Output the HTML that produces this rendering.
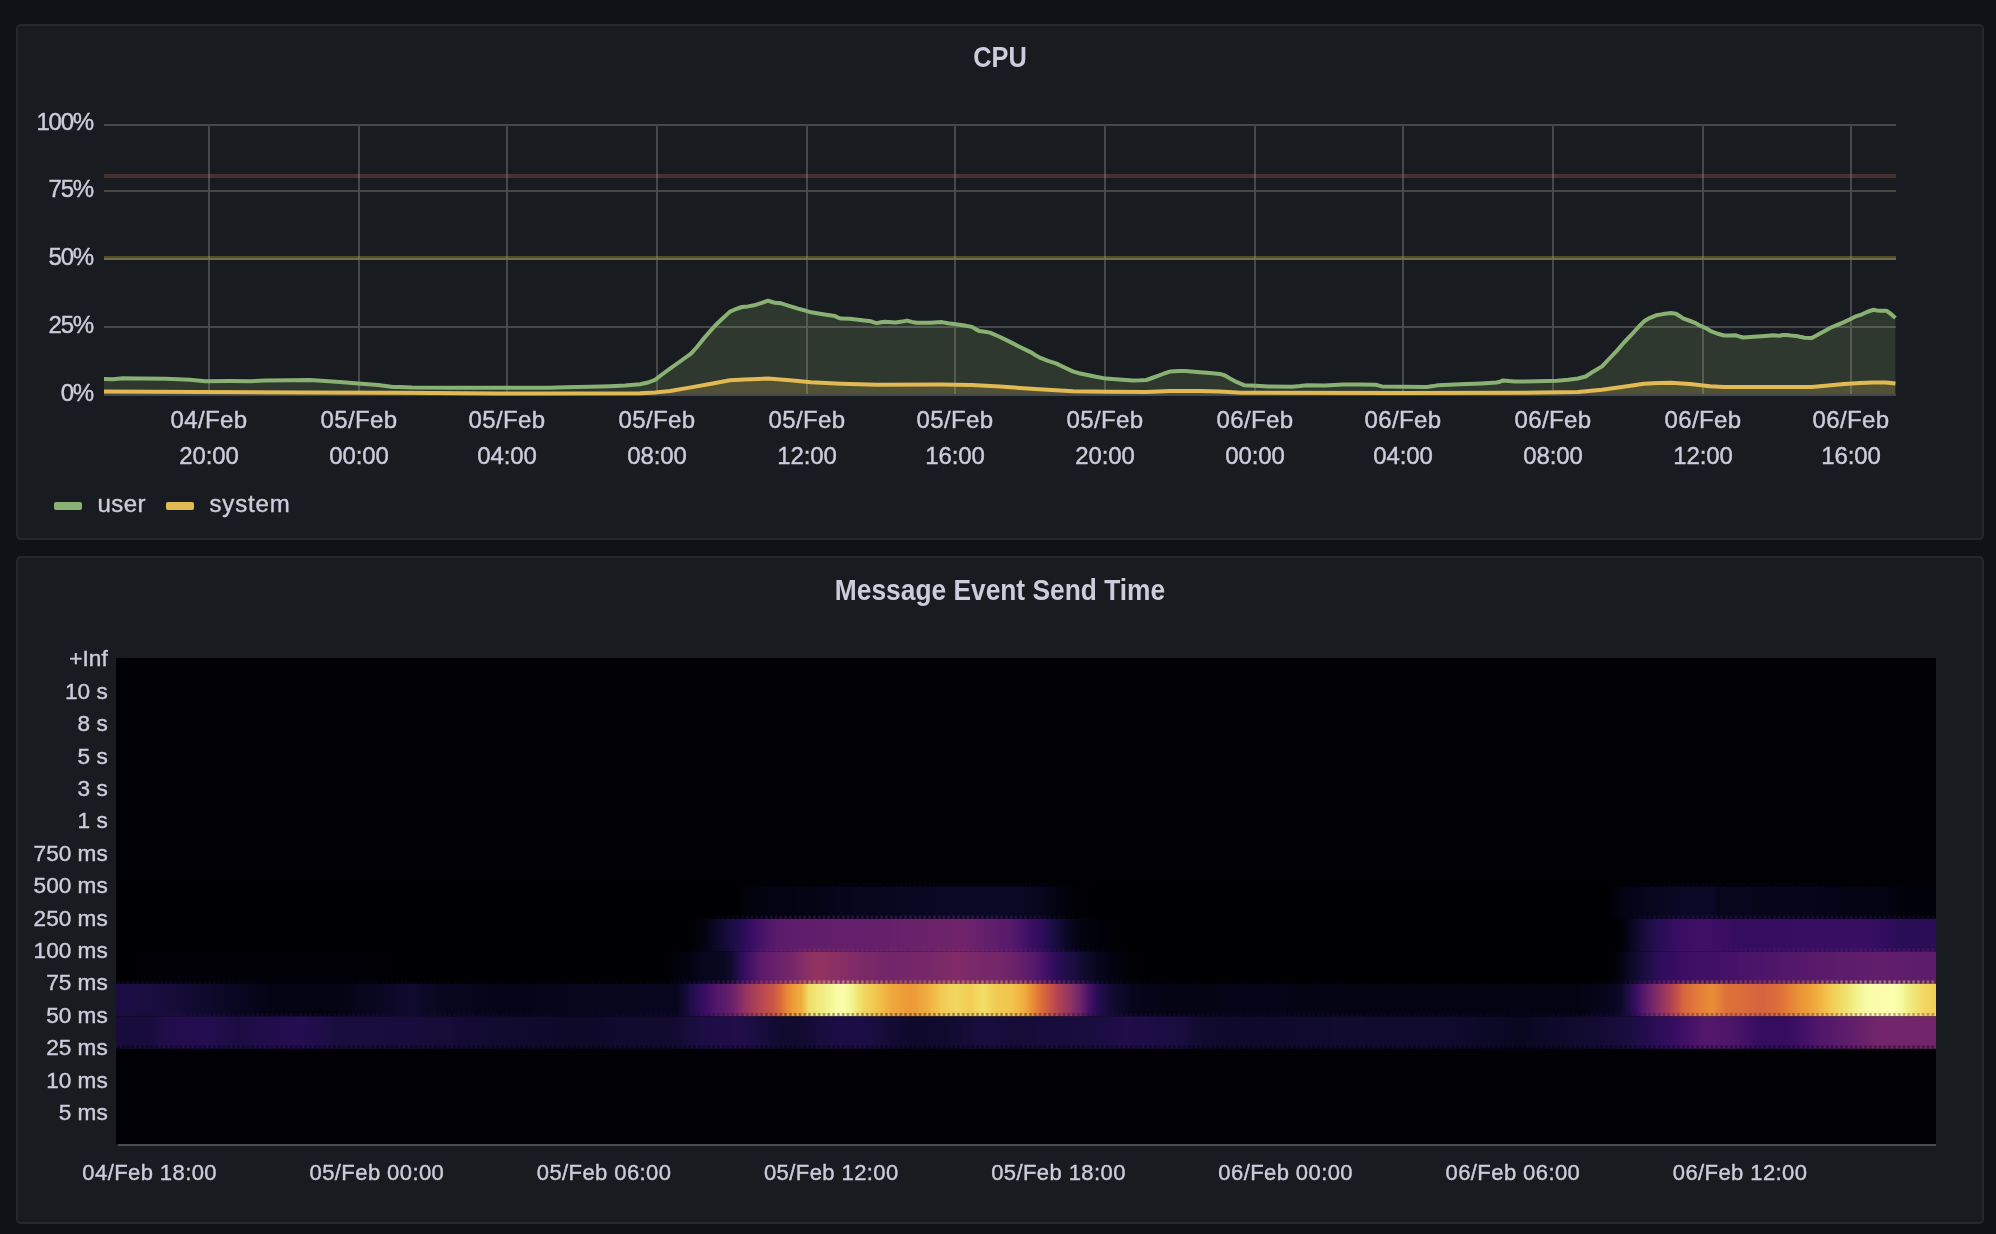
<!DOCTYPE html>
<html><head><meta charset="utf-8"><title>Dashboard</title>
<style>
html,body{margin:0;padding:0;background:#111217;}
body{width:1996px;height:1234px;position:relative;overflow:hidden;font-family:"Liberation Sans",sans-serif;color:#ccccdc;}
.abs{position:absolute;}
.txt{position:absolute;left:0;top:0;width:1996px;height:1234px;will-change:transform;}
.panel{position:absolute;left:16px;width:1968px;box-sizing:border-box;background:#181b1f;border:2px solid #25272c;border-radius:5px;}
.title{position:absolute;left:0;width:1996px;text-align:center;font-weight:bold;font-size:29px;line-height:32px;transform-origin:50% 50%;white-space:nowrap;}
.yl,.xl,.lg,.hy,.hx{-webkit-text-stroke:0.4px #ccccdc;}
.yl{position:absolute;left:0;width:93px;text-align:right;font-size:24px;line-height:32px;letter-spacing:-1.2px;white-space:nowrap;}
.xl{position:absolute;width:120px;text-align:center;font-size:24px;line-height:32px;white-space:nowrap;letter-spacing:0.4px;}
.xt{letter-spacing:-0.1px;}
.lg{position:absolute;font-size:24px;line-height:32px;white-space:nowrap;}
.sw{position:absolute;top:502px;width:28px;height:8px;border-radius:2px;}
.hy{position:absolute;left:0;width:107.7px;text-align:right;font-size:22.6px;line-height:28px;white-space:nowrap;}
.hx{position:absolute;width:200px;text-align:center;font-size:22px;line-height:28px;letter-spacing:0.42px;white-space:nowrap;}
</style></head><body>
<div class="panel" style="top:24px;height:516px"></div>
<div class="panel" style="top:556px;height:668px"></div>
<svg class="abs" style="left:0;top:0" width="1996" height="560" viewBox="0 0 1996 560"><rect x="208" y="124" width="2" height="272" fill="#46474b"/><rect x="358" y="124" width="2" height="272" fill="#46474b"/><rect x="506" y="124" width="2" height="272" fill="#46474b"/><rect x="656" y="124" width="2" height="272" fill="#46474b"/><rect x="806" y="124" width="2" height="272" fill="#46474b"/><rect x="954" y="124" width="2" height="272" fill="#46474b"/><rect x="1104" y="124" width="2" height="272" fill="#46474b"/><rect x="1254" y="124" width="2" height="272" fill="#46474b"/><rect x="1402" y="124" width="2" height="272" fill="#46474b"/><rect x="1552" y="124" width="2" height="272" fill="#46474b"/><rect x="1702" y="124" width="2" height="272" fill="#46474b"/><rect x="1850" y="124" width="2" height="272" fill="#46474b"/><rect x="104" y="124" width="1792" height="2" fill="#46474b"/><rect x="104" y="190" width="1792" height="2" fill="#46474b"/><rect x="104" y="258" width="1792" height="2" fill="#46474b"/><rect x="104" y="326" width="1792" height="2" fill="#46474b"/><rect x="104" y="394" width="1792" height="2" fill="#46474b"/><polygon points="104.0,379.1 113.0,379.3 122.5,378.3 140.0,378.6 166.0,378.8 190.0,379.8 205.0,381.2 230.0,381.0 250.0,381.2 265.0,380.6 290.0,380.3 310.0,380.1 325.0,380.9 340.0,382.0 355.0,383.3 378.0,385.1 393.0,387.0 400.0,386.9 412.0,387.6 450.0,387.8 500.0,387.8 550.0,387.8 565.0,387.2 590.0,386.8 610.0,386.3 625.0,385.6 640.0,384.2 648.0,382.5 655.0,379.8 662.0,374.5 670.0,368.7 680.0,361.5 691.0,353.7 697.0,347.0 703.0,339.4 709.0,332.5 715.0,325.8 722.0,319.0 730.0,311.6 736.0,309.0 742.0,307.0 748.0,306.4 754.0,305.3 761.0,303.2 768.0,300.7 772.0,302.0 775.0,302.8 781.0,303.3 789.0,305.8 798.0,308.6 804.0,310.2 811.0,312.3 823.0,314.3 835.0,316.1 838.0,317.6 841.0,318.6 850.0,318.8 860.0,320.0 871.0,321.3 874.0,322.4 877.0,323.1 881.0,322.2 885.0,321.8 895.5,322.5 902.0,321.6 907.0,320.6 912.0,321.9 916.6,322.8 930.0,322.8 942.0,322.1 948.0,323.2 954.0,323.9 963.0,325.2 972.0,326.9 976.0,329.4 979.6,331.1 985.0,331.8 990.0,332.6 1000.0,337.0 1011.0,342.4 1021.0,347.5 1032.0,352.9 1036.0,355.6 1041.0,358.2 1048.0,360.8 1056.0,363.4 1064.0,367.3 1072.8,371.4 1079.0,373.2 1086.3,374.7 1096.0,376.8 1105.9,378.6 1119.0,379.6 1133.0,380.4 1140.0,380.3 1146.4,380.0 1152.0,378.0 1158.0,375.8 1164.0,373.5 1170.5,371.4 1178.0,371.0 1185.5,371.1 1200.0,372.2 1210.0,373.0 1220.0,373.9 1225.0,375.5 1230.0,378.5 1237.0,382.2 1244.0,385.2 1256.0,385.8 1268.0,386.4 1292.0,386.7 1300.0,386.0 1307.0,385.2 1325.0,385.5 1334.0,385.0 1343.0,384.5 1360.0,384.6 1376.0,384.8 1379.0,385.6 1382.0,386.4 1405.0,386.8 1427.0,387.0 1433.0,386.1 1438.0,385.2 1460.0,384.3 1481.5,383.4 1496.6,382.5 1500.0,381.8 1503.0,380.4 1509.0,381.1 1515.0,381.6 1536.0,381.2 1557.0,380.7 1568.0,379.7 1578.0,378.5 1585.7,376.5 1593.0,371.7 1602.0,366.4 1609.0,359.0 1617.0,350.6 1624.0,342.5 1632.0,334.1 1638.0,327.5 1644.0,321.3 1650.0,317.8 1656.0,315.3 1663.0,314.1 1671.0,313.1 1676.0,313.8 1680.0,316.2 1683.0,318.3 1689.0,320.5 1695.0,322.8 1700.0,325.7 1707.0,328.7 1710.8,331.1 1717.0,333.5 1724.0,335.5 1730.0,335.5 1736.0,335.3 1740.0,336.6 1743.0,337.5 1750.0,337.1 1757.7,336.5 1765.0,336.0 1773.0,335.3 1779.0,335.7 1783.0,335.1 1786.6,334.9 1791.0,335.5 1796.0,335.9 1800.0,336.8 1804.6,337.7 1811.8,338.1 1816.0,335.8 1820.0,333.5 1826.0,330.3 1831.0,327.5 1838.0,324.6 1844.0,322.1 1850.0,319.2 1855.0,316.7 1862.0,314.3 1867.0,312.0 1873.0,309.8 1877.0,310.4 1880.4,310.7 1886.4,310.7 1891.0,314.0 1895.4,317.9 1895.4,394 104,394" fill="#89b174" fill-opacity="0.2"/><polygon points="104.0,391.6 200.0,392.0 300.0,392.4 400.0,392.8 500.0,393.4 640.0,393.3 655.0,392.4 670.0,391.0 691.0,387.4 710.0,384.0 730.0,380.2 745.0,379.4 768.0,378.5 790.0,380.2 811.0,382.2 841.0,383.7 877.0,384.8 940.0,384.5 972.0,384.9 1000.0,386.6 1035.0,389.0 1072.8,391.2 1110.0,391.8 1146.0,392.0 1170.0,390.9 1200.0,391.0 1220.0,391.5 1241.0,392.7 1400.0,392.9 1520.0,392.7 1578.0,392.0 1602.0,389.7 1622.0,386.9 1644.0,383.7 1658.0,383.0 1671.0,382.7 1690.0,384.0 1710.0,386.2 1724.0,386.9 1760.0,387.0 1811.8,387.0 1828.0,385.5 1844.0,384.0 1860.0,383.1 1873.0,382.4 1886.0,382.4 1895.4,383.6 1895.4,394 104,394" fill="#e2ba53" fill-opacity="0.2"/><rect x="104" y="174" width="1792" height="4" fill="#e46f6b" fill-opacity="0.25"/><rect x="104" y="256" width="1792" height="4" fill="#d6c83d" fill-opacity="0.3"/><polyline points="104.0,379.1 113.0,379.3 122.5,378.3 140.0,378.6 166.0,378.8 190.0,379.8 205.0,381.2 230.0,381.0 250.0,381.2 265.0,380.6 290.0,380.3 310.0,380.1 325.0,380.9 340.0,382.0 355.0,383.3 378.0,385.1 393.0,387.0 400.0,386.9 412.0,387.6 450.0,387.8 500.0,387.8 550.0,387.8 565.0,387.2 590.0,386.8 610.0,386.3 625.0,385.6 640.0,384.2 648.0,382.5 655.0,379.8 662.0,374.5 670.0,368.7 680.0,361.5 691.0,353.7 697.0,347.0 703.0,339.4 709.0,332.5 715.0,325.8 722.0,319.0 730.0,311.6 736.0,309.0 742.0,307.0 748.0,306.4 754.0,305.3 761.0,303.2 768.0,300.7 772.0,302.0 775.0,302.8 781.0,303.3 789.0,305.8 798.0,308.6 804.0,310.2 811.0,312.3 823.0,314.3 835.0,316.1 838.0,317.6 841.0,318.6 850.0,318.8 860.0,320.0 871.0,321.3 874.0,322.4 877.0,323.1 881.0,322.2 885.0,321.8 895.5,322.5 902.0,321.6 907.0,320.6 912.0,321.9 916.6,322.8 930.0,322.8 942.0,322.1 948.0,323.2 954.0,323.9 963.0,325.2 972.0,326.9 976.0,329.4 979.6,331.1 985.0,331.8 990.0,332.6 1000.0,337.0 1011.0,342.4 1021.0,347.5 1032.0,352.9 1036.0,355.6 1041.0,358.2 1048.0,360.8 1056.0,363.4 1064.0,367.3 1072.8,371.4 1079.0,373.2 1086.3,374.7 1096.0,376.8 1105.9,378.6 1119.0,379.6 1133.0,380.4 1140.0,380.3 1146.4,380.0 1152.0,378.0 1158.0,375.8 1164.0,373.5 1170.5,371.4 1178.0,371.0 1185.5,371.1 1200.0,372.2 1210.0,373.0 1220.0,373.9 1225.0,375.5 1230.0,378.5 1237.0,382.2 1244.0,385.2 1256.0,385.8 1268.0,386.4 1292.0,386.7 1300.0,386.0 1307.0,385.2 1325.0,385.5 1334.0,385.0 1343.0,384.5 1360.0,384.6 1376.0,384.8 1379.0,385.6 1382.0,386.4 1405.0,386.8 1427.0,387.0 1433.0,386.1 1438.0,385.2 1460.0,384.3 1481.5,383.4 1496.6,382.5 1500.0,381.8 1503.0,380.4 1509.0,381.1 1515.0,381.6 1536.0,381.2 1557.0,380.7 1568.0,379.7 1578.0,378.5 1585.7,376.5 1593.0,371.7 1602.0,366.4 1609.0,359.0 1617.0,350.6 1624.0,342.5 1632.0,334.1 1638.0,327.5 1644.0,321.3 1650.0,317.8 1656.0,315.3 1663.0,314.1 1671.0,313.1 1676.0,313.8 1680.0,316.2 1683.0,318.3 1689.0,320.5 1695.0,322.8 1700.0,325.7 1707.0,328.7 1710.8,331.1 1717.0,333.5 1724.0,335.5 1730.0,335.5 1736.0,335.3 1740.0,336.6 1743.0,337.5 1750.0,337.1 1757.7,336.5 1765.0,336.0 1773.0,335.3 1779.0,335.7 1783.0,335.1 1786.6,334.9 1791.0,335.5 1796.0,335.9 1800.0,336.8 1804.6,337.7 1811.8,338.1 1816.0,335.8 1820.0,333.5 1826.0,330.3 1831.0,327.5 1838.0,324.6 1844.0,322.1 1850.0,319.2 1855.0,316.7 1862.0,314.3 1867.0,312.0 1873.0,309.8 1877.0,310.4 1880.4,310.7 1886.4,310.7 1891.0,314.0 1895.4,317.9" fill="none" stroke="#89b174" stroke-width="4" stroke-linejoin="round"/><polyline points="104.0,391.6 200.0,392.0 300.0,392.4 400.0,392.8 500.0,393.4 640.0,393.3 655.0,392.4 670.0,391.0 691.0,387.4 710.0,384.0 730.0,380.2 745.0,379.4 768.0,378.5 790.0,380.2 811.0,382.2 841.0,383.7 877.0,384.8 940.0,384.5 972.0,384.9 1000.0,386.6 1035.0,389.0 1072.8,391.2 1110.0,391.8 1146.0,392.0 1170.0,390.9 1200.0,391.0 1220.0,391.5 1241.0,392.7 1400.0,392.9 1520.0,392.7 1578.0,392.0 1602.0,389.7 1622.0,386.9 1644.0,383.7 1658.0,383.0 1671.0,382.7 1690.0,384.0 1710.0,386.2 1724.0,386.9 1760.0,387.0 1811.8,387.0 1828.0,385.5 1844.0,384.0 1860.0,383.1 1873.0,382.4 1886.0,382.4 1895.4,383.6" fill="none" stroke="#e2ba53" stroke-width="4" stroke-linejoin="round"/></svg>
<svg class="abs" style="left:0;top:556px" width="1996" height="678" viewBox="0 556 1996 678"><defs><linearGradient id="b1" gradientUnits="userSpaceOnUse" x1="116" x2="1936" y1="0" y2="0"><stop offset="0.0000" stop-color="#000003"/><stop offset="0.3423" stop-color="#000003"/><stop offset="0.3462" stop-color="#02020d"/><stop offset="0.3500" stop-color="#03020f"/><stop offset="0.3538" stop-color="#03020f"/><stop offset="0.3577" stop-color="#030311"/><stop offset="0.3654" stop-color="#030311"/><stop offset="0.3692" stop-color="#040313"/><stop offset="0.3731" stop-color="#040313"/><stop offset="0.3769" stop-color="#050415"/><stop offset="0.3846" stop-color="#050415"/><stop offset="0.3885" stop-color="#050418"/><stop offset="0.3923" stop-color="#050418"/><stop offset="0.3962" stop-color="#06051a"/><stop offset="0.4038" stop-color="#06051a"/><stop offset="0.4077" stop-color="#07061c"/><stop offset="0.4154" stop-color="#07061c"/><stop offset="0.4192" stop-color="#08061e"/><stop offset="0.4231" stop-color="#08061e"/><stop offset="0.4269" stop-color="#090720"/><stop offset="0.4308" stop-color="#090720"/><stop offset="0.4346" stop-color="#0a0722"/><stop offset="0.4462" stop-color="#0a0722"/><stop offset="0.4500" stop-color="#0b0825"/><stop offset="0.4962" stop-color="#0b0825"/><stop offset="0.5000" stop-color="#0a0722"/><stop offset="0.5038" stop-color="#090720"/><stop offset="0.5077" stop-color="#08061e"/><stop offset="0.5115" stop-color="#06051a"/><stop offset="0.5154" stop-color="#050415"/><stop offset="0.5192" stop-color="#03020f"/><stop offset="0.5231" stop-color="#02020b"/><stop offset="0.5269" stop-color="#010107"/><stop offset="0.5308" stop-color="#010106"/><stop offset="0.5346" stop-color="#010004"/><stop offset="0.5385" stop-color="#000003"/><stop offset="0.8192" stop-color="#000003"/><stop offset="0.8231" stop-color="#02020d"/><stop offset="0.8269" stop-color="#030311"/><stop offset="0.8308" stop-color="#050415"/><stop offset="0.8346" stop-color="#050418"/><stop offset="0.8385" stop-color="#06051a"/><stop offset="0.8423" stop-color="#07061c"/><stop offset="0.8462" stop-color="#08061e"/><stop offset="0.8500" stop-color="#090720"/><stop offset="0.8538" stop-color="#0a0722"/><stop offset="0.8577" stop-color="#0b0825"/><stop offset="0.8615" stop-color="#0c0827"/><stop offset="0.8769" stop-color="#0c0827"/><stop offset="0.8808" stop-color="#07061c"/><stop offset="0.8962" stop-color="#07061c"/><stop offset="0.9000" stop-color="#06051a"/><stop offset="0.9346" stop-color="#06051a"/><stop offset="0.9385" stop-color="#050418"/><stop offset="0.9462" stop-color="#050418"/><stop offset="0.9500" stop-color="#050415"/><stop offset="0.9577" stop-color="#050415"/><stop offset="0.9615" stop-color="#040313"/><stop offset="0.9692" stop-color="#040313"/><stop offset="0.9731" stop-color="#030311"/><stop offset="0.9769" stop-color="#03020f"/><stop offset="0.9808" stop-color="#02020b"/><stop offset="0.9846" stop-color="#010109"/><stop offset="1.0000" stop-color="#010109"/></linearGradient><linearGradient id="b2" gradientUnits="userSpaceOnUse" x1="116" x2="1936" y1="0" y2="0"><stop offset="0.0000" stop-color="#000003"/><stop offset="0.3115" stop-color="#000003"/><stop offset="0.3154" stop-color="#010004"/><stop offset="0.3192" stop-color="#02020b"/><stop offset="0.3231" stop-color="#040313"/><stop offset="0.3269" stop-color="#08061e"/><stop offset="0.3308" stop-color="#0e0929"/><stop offset="0.3346" stop-color="#130b35"/><stop offset="0.3385" stop-color="#1b0d43"/><stop offset="0.3423" stop-color="#240d50"/><stop offset="0.3462" stop-color="#2f0d5b"/><stop offset="0.3500" stop-color="#3a0e63"/><stop offset="0.3538" stop-color="#451267"/><stop offset="0.3577" stop-color="#4e1669"/><stop offset="0.3615" stop-color="#56196a"/><stop offset="0.3654" stop-color="#5a1b6b"/><stop offset="0.3692" stop-color="#5e1d6b"/><stop offset="0.3731" stop-color="#5e1d6b"/><stop offset="0.3769" stop-color="#601d6b"/><stop offset="0.3808" stop-color="#601d6b"/><stop offset="0.3846" stop-color="#611e6b"/><stop offset="0.3885" stop-color="#611e6b"/><stop offset="0.3923" stop-color="#631f6b"/><stop offset="0.4077" stop-color="#631f6b"/><stop offset="0.4115" stop-color="#641f6b"/><stop offset="0.4154" stop-color="#641f6b"/><stop offset="0.4192" stop-color="#66206b"/><stop offset="0.4231" stop-color="#66206b"/><stop offset="0.4269" stop-color="#67216b"/><stop offset="0.4308" stop-color="#67216b"/><stop offset="0.4346" stop-color="#69216a"/><stop offset="0.4385" stop-color="#69216a"/><stop offset="0.4423" stop-color="#6a226a"/><stop offset="0.4462" stop-color="#6a226a"/><stop offset="0.4500" stop-color="#6c236a"/><stop offset="0.4538" stop-color="#6c236a"/><stop offset="0.4577" stop-color="#6d236a"/><stop offset="0.4615" stop-color="#6f246a"/><stop offset="0.4654" stop-color="#6f246a"/><stop offset="0.4692" stop-color="#6c236a"/><stop offset="0.4731" stop-color="#67216b"/><stop offset="0.4769" stop-color="#641f6b"/><stop offset="0.4808" stop-color="#611e6b"/><stop offset="0.4846" stop-color="#5e1d6b"/><stop offset="0.4885" stop-color="#5a1b6b"/><stop offset="0.4923" stop-color="#56196a"/><stop offset="0.4962" stop-color="#4d1569"/><stop offset="0.5000" stop-color="#421166"/><stop offset="0.5038" stop-color="#390e62"/><stop offset="0.5077" stop-color="#310d5d"/><stop offset="0.5115" stop-color="#240d50"/><stop offset="0.5154" stop-color="#1b0d43"/><stop offset="0.5192" stop-color="#120b32"/><stop offset="0.5231" stop-color="#0a0722"/><stop offset="0.5269" stop-color="#06051a"/><stop offset="0.5308" stop-color="#030311"/><stop offset="0.5346" stop-color="#02020d"/><stop offset="0.5385" stop-color="#02020b"/><stop offset="0.5423" stop-color="#010109"/><stop offset="0.5462" stop-color="#010107"/><stop offset="0.5500" stop-color="#010004"/><stop offset="0.5538" stop-color="#000003"/><stop offset="0.8231" stop-color="#000003"/><stop offset="0.8269" stop-color="#010107"/><stop offset="0.8308" stop-color="#050418"/><stop offset="0.8346" stop-color="#0c0827"/><stop offset="0.8385" stop-color="#150c37"/><stop offset="0.8423" stop-color="#1d0d45"/><stop offset="0.8462" stop-color="#260d52"/><stop offset="0.8500" stop-color="#2b0d57"/><stop offset="0.8538" stop-color="#310d5d"/><stop offset="0.8577" stop-color="#390e62"/><stop offset="0.8615" stop-color="#3a0e63"/><stop offset="0.8654" stop-color="#3c0f64"/><stop offset="0.8692" stop-color="#3e0f64"/><stop offset="0.8731" stop-color="#3f1065"/><stop offset="0.8769" stop-color="#3e0f64"/><stop offset="0.8808" stop-color="#3a0e63"/><stop offset="0.8846" stop-color="#390e62"/><stop offset="0.8885" stop-color="#360d60"/><stop offset="0.8923" stop-color="#340d5f"/><stop offset="0.9077" stop-color="#340d5f"/><stop offset="0.9115" stop-color="#360d60"/><stop offset="0.9192" stop-color="#360d60"/><stop offset="0.9231" stop-color="#370e61"/><stop offset="0.9615" stop-color="#370e61"/><stop offset="0.9654" stop-color="#360d60"/><stop offset="0.9692" stop-color="#340d5f"/><stop offset="0.9731" stop-color="#310d5d"/><stop offset="0.9769" stop-color="#2e0d5a"/><stop offset="0.9808" stop-color="#2c0d58"/><stop offset="0.9846" stop-color="#290d55"/><stop offset="0.9923" stop-color="#290d55"/><stop offset="0.9962" stop-color="#2b0d57"/><stop offset="1.0000" stop-color="#2c0d58"/></linearGradient><linearGradient id="b3" gradientUnits="userSpaceOnUse" x1="116" x2="1936" y1="0" y2="0"><stop offset="0.0000" stop-color="#000003"/><stop offset="0.0077" stop-color="#000003"/><stop offset="0.0115" stop-color="#010004"/><stop offset="0.0154" stop-color="#010004"/><stop offset="0.0192" stop-color="#010106"/><stop offset="0.0231" stop-color="#010106"/><stop offset="0.0269" stop-color="#010107"/><stop offset="0.1346" stop-color="#010107"/><stop offset="0.1385" stop-color="#010106"/><stop offset="0.1423" stop-color="#010106"/><stop offset="0.1462" stop-color="#010004"/><stop offset="0.1500" stop-color="#000003"/><stop offset="0.3000" stop-color="#000003"/><stop offset="0.3038" stop-color="#010107"/><stop offset="0.3077" stop-color="#02020b"/><stop offset="0.3115" stop-color="#03020f"/><stop offset="0.3154" stop-color="#040313"/><stop offset="0.3192" stop-color="#050418"/><stop offset="0.3231" stop-color="#07061c"/><stop offset="0.3269" stop-color="#08061e"/><stop offset="0.3308" stop-color="#090720"/><stop offset="0.3346" stop-color="#0a0722"/><stop offset="0.3385" stop-color="#110b30"/><stop offset="0.3423" stop-color="#260d52"/><stop offset="0.3462" stop-color="#3a0e63"/><stop offset="0.3500" stop-color="#4a1468"/><stop offset="0.3538" stop-color="#571a6a"/><stop offset="0.3577" stop-color="#601d6b"/><stop offset="0.3615" stop-color="#66206b"/><stop offset="0.3654" stop-color="#6c236a"/><stop offset="0.3692" stop-color="#72256a"/><stop offset="0.3731" stop-color="#792868"/><stop offset="0.3769" stop-color="#822c67"/><stop offset="0.3808" stop-color="#8b3064"/><stop offset="0.3846" stop-color="#933461"/><stop offset="0.3885" stop-color="#913362"/><stop offset="0.3923" stop-color="#8e3163"/><stop offset="0.3962" stop-color="#893065"/><stop offset="0.4000" stop-color="#862e65"/><stop offset="0.4038" stop-color="#822c67"/><stop offset="0.4077" stop-color="#7f2b67"/><stop offset="0.4115" stop-color="#7a2968"/><stop offset="0.4154" stop-color="#792868"/><stop offset="0.4192" stop-color="#762769"/><stop offset="0.4231" stop-color="#732669"/><stop offset="0.4269" stop-color="#72256a"/><stop offset="0.4308" stop-color="#732669"/><stop offset="0.4346" stop-color="#732669"/><stop offset="0.4385" stop-color="#752769"/><stop offset="0.4423" stop-color="#762769"/><stop offset="0.4462" stop-color="#772869"/><stop offset="0.4500" stop-color="#792868"/><stop offset="0.4538" stop-color="#7c2a68"/><stop offset="0.4577" stop-color="#7f2b67"/><stop offset="0.4615" stop-color="#822c67"/><stop offset="0.4654" stop-color="#7f2b67"/><stop offset="0.4692" stop-color="#7a2968"/><stop offset="0.4731" stop-color="#792868"/><stop offset="0.4769" stop-color="#772869"/><stop offset="0.4808" stop-color="#762769"/><stop offset="0.4846" stop-color="#752769"/><stop offset="0.4885" stop-color="#72256a"/><stop offset="0.4923" stop-color="#6c236a"/><stop offset="0.4962" stop-color="#67216b"/><stop offset="0.5000" stop-color="#601d6b"/><stop offset="0.5038" stop-color="#571a6a"/><stop offset="0.5077" stop-color="#4d1569"/><stop offset="0.5115" stop-color="#3f1065"/><stop offset="0.5154" stop-color="#310d5d"/><stop offset="0.5192" stop-color="#270d53"/><stop offset="0.5231" stop-color="#200d49"/><stop offset="0.5269" stop-color="#190d3e"/><stop offset="0.5308" stop-color="#120b32"/><stop offset="0.5346" stop-color="#0e0929"/><stop offset="0.5385" stop-color="#090720"/><stop offset="0.5423" stop-color="#06051a"/><stop offset="0.5462" stop-color="#040313"/><stop offset="0.5500" stop-color="#03020f"/><stop offset="0.5538" stop-color="#02020b"/><stop offset="0.5577" stop-color="#010107"/><stop offset="0.5615" stop-color="#010106"/><stop offset="0.5654" stop-color="#010004"/><stop offset="0.5692" stop-color="#000003"/><stop offset="0.8192" stop-color="#000003"/><stop offset="0.8231" stop-color="#010107"/><stop offset="0.8269" stop-color="#040313"/><stop offset="0.8308" stop-color="#090720"/><stop offset="0.8346" stop-color="#100a2e"/><stop offset="0.8385" stop-color="#170c3c"/><stop offset="0.8423" stop-color="#1e0d47"/><stop offset="0.8462" stop-color="#290d55"/><stop offset="0.8500" stop-color="#310d5d"/><stop offset="0.8538" stop-color="#340d5f"/><stop offset="0.8577" stop-color="#370e61"/><stop offset="0.8615" stop-color="#3a0e63"/><stop offset="0.8654" stop-color="#3e0f64"/><stop offset="0.8692" stop-color="#3f1065"/><stop offset="0.8731" stop-color="#3f1065"/><stop offset="0.8769" stop-color="#411066"/><stop offset="0.8808" stop-color="#421166"/><stop offset="0.8846" stop-color="#441167"/><stop offset="0.8885" stop-color="#451267"/><stop offset="0.8923" stop-color="#481368"/><stop offset="0.8962" stop-color="#4a1468"/><stop offset="0.9000" stop-color="#4b1469"/><stop offset="0.9038" stop-color="#4d1569"/><stop offset="0.9077" stop-color="#4e1669"/><stop offset="0.9115" stop-color="#501669"/><stop offset="0.9154" stop-color="#51176a"/><stop offset="0.9192" stop-color="#53186a"/><stop offset="0.9231" stop-color="#54186a"/><stop offset="0.9269" stop-color="#56196a"/><stop offset="0.9308" stop-color="#571a6a"/><stop offset="0.9346" stop-color="#591a6a"/><stop offset="0.9385" stop-color="#5a1b6b"/><stop offset="0.9423" stop-color="#5a1b6b"/><stop offset="0.9462" stop-color="#5b1c6b"/><stop offset="0.9500" stop-color="#5d1c6b"/><stop offset="0.9538" stop-color="#5e1d6b"/><stop offset="0.9577" stop-color="#5e1d6b"/><stop offset="0.9615" stop-color="#601d6b"/><stop offset="0.9654" stop-color="#611e6b"/><stop offset="0.9731" stop-color="#611e6b"/><stop offset="0.9769" stop-color="#601d6b"/><stop offset="0.9808" stop-color="#601d6b"/><stop offset="0.9846" stop-color="#5e1d6b"/><stop offset="0.9885" stop-color="#5e1d6b"/><stop offset="0.9923" stop-color="#5d1c6b"/><stop offset="0.9962" stop-color="#5d1c6b"/><stop offset="1.0000" stop-color="#5b1c6b"/></linearGradient><linearGradient id="b4" gradientUnits="userSpaceOnUse" x1="116" x2="1936" y1="0" y2="0"><stop offset="0.0000" stop-color="#1b0d43"/><stop offset="0.0077" stop-color="#1b0d43"/><stop offset="0.0115" stop-color="#1a0d40"/><stop offset="0.0192" stop-color="#1a0d40"/><stop offset="0.0231" stop-color="#190d3e"/><stop offset="0.0269" stop-color="#170c3c"/><stop offset="0.0308" stop-color="#160c39"/><stop offset="0.0346" stop-color="#150c37"/><stop offset="0.0385" stop-color="#130b35"/><stop offset="0.0423" stop-color="#110b30"/><stop offset="0.0462" stop-color="#100a2e"/><stop offset="0.0500" stop-color="#0f0a2b"/><stop offset="0.0538" stop-color="#0e0929"/><stop offset="0.0577" stop-color="#0c0827"/><stop offset="0.0615" stop-color="#0b0825"/><stop offset="0.0654" stop-color="#090720"/><stop offset="0.0692" stop-color="#08061e"/><stop offset="0.0731" stop-color="#07061c"/><stop offset="0.0769" stop-color="#06051a"/><stop offset="0.0808" stop-color="#050415"/><stop offset="0.0846" stop-color="#040313"/><stop offset="0.0885" stop-color="#030311"/><stop offset="0.1192" stop-color="#030311"/><stop offset="0.1231" stop-color="#040313"/><stop offset="0.1269" stop-color="#050415"/><stop offset="0.1308" stop-color="#06051a"/><stop offset="0.1346" stop-color="#07061c"/><stop offset="0.1385" stop-color="#08061e"/><stop offset="0.1423" stop-color="#090720"/><stop offset="0.1462" stop-color="#0a0722"/><stop offset="0.1500" stop-color="#0c0827"/><stop offset="0.1538" stop-color="#0e0929"/><stop offset="0.1577" stop-color="#0f0a2b"/><stop offset="0.1615" stop-color="#100a2e"/><stop offset="0.1654" stop-color="#0f0a2b"/><stop offset="0.1692" stop-color="#0c0827"/><stop offset="0.1731" stop-color="#0b0825"/><stop offset="0.1769" stop-color="#090720"/><stop offset="0.1808" stop-color="#090720"/><stop offset="0.1846" stop-color="#08061e"/><stop offset="0.1885" stop-color="#08061e"/><stop offset="0.1923" stop-color="#07061c"/><stop offset="0.1962" stop-color="#07061c"/><stop offset="0.2000" stop-color="#06051a"/><stop offset="0.2038" stop-color="#06051a"/><stop offset="0.2077" stop-color="#050418"/><stop offset="0.2269" stop-color="#050418"/><stop offset="0.2308" stop-color="#06051a"/><stop offset="0.2462" stop-color="#06051a"/><stop offset="0.2500" stop-color="#07061c"/><stop offset="0.2846" stop-color="#07061c"/><stop offset="0.2885" stop-color="#08061e"/><stop offset="0.3077" stop-color="#08061e"/><stop offset="0.3115" stop-color="#0e0929"/><stop offset="0.3154" stop-color="#1d0d45"/><stop offset="0.3192" stop-color="#2b0d57"/><stop offset="0.3231" stop-color="#390e62"/><stop offset="0.3269" stop-color="#471268"/><stop offset="0.3308" stop-color="#54186a"/><stop offset="0.3346" stop-color="#5b1c6b"/><stop offset="0.3385" stop-color="#69216a"/><stop offset="0.3423" stop-color="#7f2b67"/><stop offset="0.3462" stop-color="#953561"/><stop offset="0.3500" stop-color="#a63d59"/><stop offset="0.3538" stop-color="#b54751"/><stop offset="0.3577" stop-color="#c04e4b"/><stop offset="0.3615" stop-color="#ca5845"/><stop offset="0.3654" stop-color="#db6e3a"/><stop offset="0.3692" stop-color="#e98d36"/><stop offset="0.3731" stop-color="#eea03a"/><stop offset="0.3769" stop-color="#f0b040"/><stop offset="0.3808" stop-color="#f1de68"/><stop offset="0.3846" stop-color="#f0e776"/><stop offset="0.3885" stop-color="#f1ed83"/><stop offset="0.3923" stop-color="#f3f594"/><stop offset="0.3962" stop-color="#fafca9"/><stop offset="0.4000" stop-color="#fafca9"/><stop offset="0.4038" stop-color="#f3f594"/><stop offset="0.4077" stop-color="#f0e573"/><stop offset="0.4115" stop-color="#f1d55d"/><stop offset="0.4154" stop-color="#f1cb54"/><stop offset="0.4192" stop-color="#f1c04a"/><stop offset="0.4231" stop-color="#f1b342"/><stop offset="0.4269" stop-color="#efa73c"/><stop offset="0.4308" stop-color="#eea13a"/><stop offset="0.4346" stop-color="#ed9a38"/><stop offset="0.4385" stop-color="#ed9a38"/><stop offset="0.4423" stop-color="#efa53c"/><stop offset="0.4462" stop-color="#f0ae3f"/><stop offset="0.4500" stop-color="#f1be49"/><stop offset="0.4538" stop-color="#f1cb54"/><stop offset="0.4577" stop-color="#f1d159"/><stop offset="0.4615" stop-color="#f1d65f"/><stop offset="0.4654" stop-color="#f1d35b"/><stop offset="0.4692" stop-color="#f1cd55"/><stop offset="0.4731" stop-color="#f1d65f"/><stop offset="0.4769" stop-color="#f1de68"/><stop offset="0.4808" stop-color="#f1d35b"/><stop offset="0.4846" stop-color="#f1c952"/><stop offset="0.4885" stop-color="#f1c850"/><stop offset="0.4923" stop-color="#f1c44d"/><stop offset="0.4962" stop-color="#f1b744"/><stop offset="0.5000" stop-color="#efa83d"/><stop offset="0.5038" stop-color="#e98b36"/><stop offset="0.5077" stop-color="#de7239"/><stop offset="0.5115" stop-color="#d05e41"/><stop offset="0.5154" stop-color="#bd4c4d"/><stop offset="0.5192" stop-color="#aa4057"/><stop offset="0.5231" stop-color="#963660"/><stop offset="0.5269" stop-color="#802c67"/><stop offset="0.5308" stop-color="#67216b"/><stop offset="0.5346" stop-color="#451267"/><stop offset="0.5385" stop-color="#2c0d58"/><stop offset="0.5423" stop-color="#1d0d45"/><stop offset="0.5462" stop-color="#150c37"/><stop offset="0.5500" stop-color="#0f0a2b"/><stop offset="0.5538" stop-color="#0b0825"/><stop offset="0.5577" stop-color="#08061e"/><stop offset="0.5615" stop-color="#06051a"/><stop offset="0.5654" stop-color="#050418"/><stop offset="0.5731" stop-color="#050418"/><stop offset="0.5769" stop-color="#050415"/><stop offset="0.6038" stop-color="#050415"/><stop offset="0.6077" stop-color="#050418"/><stop offset="0.6423" stop-color="#050418"/><stop offset="0.6462" stop-color="#050415"/><stop offset="0.6731" stop-color="#050415"/><stop offset="0.6769" stop-color="#040313"/><stop offset="0.7923" stop-color="#040313"/><stop offset="0.7962" stop-color="#030311"/><stop offset="0.8038" stop-color="#030311"/><stop offset="0.8077" stop-color="#050415"/><stop offset="0.8115" stop-color="#050418"/><stop offset="0.8154" stop-color="#06051a"/><stop offset="0.8192" stop-color="#08061e"/><stop offset="0.8231" stop-color="#090720"/><stop offset="0.8269" stop-color="#0e0929"/><stop offset="0.8308" stop-color="#1d0d45"/><stop offset="0.8346" stop-color="#340d5f"/><stop offset="0.8385" stop-color="#501669"/><stop offset="0.8423" stop-color="#67216b"/><stop offset="0.8462" stop-color="#7f2b67"/><stop offset="0.8500" stop-color="#953561"/><stop offset="0.8538" stop-color="#ac4156"/><stop offset="0.8577" stop-color="#c2504a"/><stop offset="0.8615" stop-color="#d7673d"/><stop offset="0.8654" stop-color="#de7239"/><stop offset="0.8692" stop-color="#e27b37"/><stop offset="0.8731" stop-color="#e68536"/><stop offset="0.8769" stop-color="#e98d36"/><stop offset="0.8808" stop-color="#e48037"/><stop offset="0.8846" stop-color="#de7239"/><stop offset="0.8885" stop-color="#dc6f3a"/><stop offset="0.8923" stop-color="#db6e3a"/><stop offset="0.8962" stop-color="#d96a3c"/><stop offset="0.9000" stop-color="#d6663d"/><stop offset="0.9038" stop-color="#d4633f"/><stop offset="0.9077" stop-color="#d7673d"/><stop offset="0.9115" stop-color="#d96b3b"/><stop offset="0.9154" stop-color="#de7439"/><stop offset="0.9192" stop-color="#e48037"/><stop offset="0.9231" stop-color="#e98d36"/><stop offset="0.9269" stop-color="#ec9738"/><stop offset="0.9308" stop-color="#eea13a"/><stop offset="0.9346" stop-color="#f0ae3f"/><stop offset="0.9385" stop-color="#f1bc48"/><stop offset="0.9423" stop-color="#f1cb54"/><stop offset="0.9462" stop-color="#f1d65f"/><stop offset="0.9500" stop-color="#f0e16e"/><stop offset="0.9538" stop-color="#f0ec80"/><stop offset="0.9577" stop-color="#f3f594"/><stop offset="0.9615" stop-color="#f8fba5"/><stop offset="0.9654" stop-color="#fafca9"/><stop offset="0.9692" stop-color="#fbfdac"/><stop offset="0.9731" stop-color="#fbfdac"/><stop offset="0.9769" stop-color="#fcffaf"/><stop offset="0.9808" stop-color="#f6f99f"/><stop offset="0.9846" stop-color="#f1ef86"/><stop offset="0.9885" stop-color="#f0e573"/><stop offset="0.9923" stop-color="#f1da64"/><stop offset="0.9962" stop-color="#f1d35b"/><stop offset="1.0000" stop-color="#f1cd55"/></linearGradient><linearGradient id="b5" gradientUnits="userSpaceOnUse" x1="116" x2="1936" y1="0" y2="0"><stop offset="0.0000" stop-color="#170c3c"/><stop offset="0.0192" stop-color="#170c3c"/><stop offset="0.0231" stop-color="#1d0d45"/><stop offset="0.0269" stop-color="#210d4b"/><stop offset="0.0308" stop-color="#210d4b"/><stop offset="0.0346" stop-color="#230d4e"/><stop offset="0.0423" stop-color="#230d4e"/><stop offset="0.0462" stop-color="#240d50"/><stop offset="0.0500" stop-color="#240d50"/><stop offset="0.0538" stop-color="#230d4e"/><stop offset="0.0577" stop-color="#200d49"/><stop offset="0.0615" stop-color="#1e0d47"/><stop offset="0.0654" stop-color="#1b0d43"/><stop offset="0.0692" stop-color="#1b0d43"/><stop offset="0.0731" stop-color="#1e0d47"/><stop offset="0.0769" stop-color="#200d49"/><stop offset="0.0808" stop-color="#210d4b"/><stop offset="0.0846" stop-color="#210d4b"/><stop offset="0.0885" stop-color="#230d4e"/><stop offset="0.0923" stop-color="#230d4e"/><stop offset="0.0962" stop-color="#240d50"/><stop offset="0.1038" stop-color="#240d50"/><stop offset="0.1077" stop-color="#210d4b"/><stop offset="0.1115" stop-color="#200d49"/><stop offset="0.1154" stop-color="#1d0d45"/><stop offset="0.1192" stop-color="#1a0d40"/><stop offset="0.1231" stop-color="#190d3e"/><stop offset="0.1423" stop-color="#190d3e"/><stop offset="0.1462" stop-color="#170c3c"/><stop offset="0.1654" stop-color="#170c3c"/><stop offset="0.1692" stop-color="#160c39"/><stop offset="0.1731" stop-color="#160c39"/><stop offset="0.1769" stop-color="#150c37"/><stop offset="0.1846" stop-color="#150c37"/><stop offset="0.1885" stop-color="#130b35"/><stop offset="0.1962" stop-color="#130b35"/><stop offset="0.2000" stop-color="#120b32"/><stop offset="0.2038" stop-color="#120b32"/><stop offset="0.2077" stop-color="#110b30"/><stop offset="0.2154" stop-color="#110b30"/><stop offset="0.2192" stop-color="#100a2e"/><stop offset="0.2269" stop-color="#100a2e"/><stop offset="0.2308" stop-color="#0f0a2b"/><stop offset="0.2385" stop-color="#0f0a2b"/><stop offset="0.2423" stop-color="#0e0929"/><stop offset="0.2654" stop-color="#0e0929"/><stop offset="0.2692" stop-color="#0f0a2b"/><stop offset="0.2731" stop-color="#100a2e"/><stop offset="0.2769" stop-color="#110b30"/><stop offset="0.3038" stop-color="#110b30"/><stop offset="0.3077" stop-color="#120b32"/><stop offset="0.3115" stop-color="#150c37"/><stop offset="0.3154" stop-color="#170c3c"/><stop offset="0.3192" stop-color="#1a0d40"/><stop offset="0.3231" stop-color="#1d0d45"/><stop offset="0.3269" stop-color="#1d0d45"/><stop offset="0.3308" stop-color="#1e0d47"/><stop offset="0.3346" stop-color="#1e0d47"/><stop offset="0.3385" stop-color="#200d49"/><stop offset="0.3462" stop-color="#200d49"/><stop offset="0.3500" stop-color="#1b0d43"/><stop offset="0.3538" stop-color="#190d3e"/><stop offset="0.3577" stop-color="#160c39"/><stop offset="0.3615" stop-color="#130b35"/><stop offset="0.3654" stop-color="#110b30"/><stop offset="0.3769" stop-color="#110b30"/><stop offset="0.3808" stop-color="#130b35"/><stop offset="0.3846" stop-color="#160c39"/><stop offset="0.3885" stop-color="#190d3e"/><stop offset="0.3923" stop-color="#1a0d40"/><stop offset="0.3962" stop-color="#1b0d43"/><stop offset="0.4000" stop-color="#1d0d45"/><stop offset="0.4077" stop-color="#1d0d45"/><stop offset="0.4115" stop-color="#1b0d43"/><stop offset="0.4154" stop-color="#1a0d40"/><stop offset="0.4192" stop-color="#170c3c"/><stop offset="0.4231" stop-color="#160c39"/><stop offset="0.4269" stop-color="#130b35"/><stop offset="0.4308" stop-color="#110b30"/><stop offset="0.4346" stop-color="#100a2e"/><stop offset="0.4385" stop-color="#0f0a2b"/><stop offset="0.4423" stop-color="#0f0a2b"/><stop offset="0.4462" stop-color="#100a2e"/><stop offset="0.4538" stop-color="#100a2e"/><stop offset="0.4577" stop-color="#110b30"/><stop offset="0.4615" stop-color="#120b32"/><stop offset="0.4654" stop-color="#150c37"/><stop offset="0.4692" stop-color="#160c39"/><stop offset="0.4731" stop-color="#170c3c"/><stop offset="0.4769" stop-color="#190d3e"/><stop offset="0.4808" stop-color="#190d3e"/><stop offset="0.4846" stop-color="#170c3c"/><stop offset="0.4885" stop-color="#160c39"/><stop offset="0.4923" stop-color="#160c39"/><stop offset="0.4962" stop-color="#150c37"/><stop offset="0.5000" stop-color="#160c39"/><stop offset="0.5038" stop-color="#160c39"/><stop offset="0.5077" stop-color="#170c3c"/><stop offset="0.5269" stop-color="#170c3c"/><stop offset="0.5308" stop-color="#190d3e"/><stop offset="0.5346" stop-color="#190d3e"/><stop offset="0.5385" stop-color="#1a0d40"/><stop offset="0.5423" stop-color="#1b0d43"/><stop offset="0.5462" stop-color="#1d0d45"/><stop offset="0.5500" stop-color="#1e0d47"/><stop offset="0.5538" stop-color="#200d49"/><stop offset="0.5577" stop-color="#200d49"/><stop offset="0.5615" stop-color="#1e0d47"/><stop offset="0.5654" stop-color="#1e0d47"/><stop offset="0.5692" stop-color="#1d0d45"/><stop offset="0.5731" stop-color="#1b0d43"/><stop offset="0.5769" stop-color="#1b0d43"/><stop offset="0.5808" stop-color="#1a0d40"/><stop offset="0.5846" stop-color="#190d3e"/><stop offset="0.5885" stop-color="#160c39"/><stop offset="0.5923" stop-color="#130b35"/><stop offset="0.5962" stop-color="#110b30"/><stop offset="0.6000" stop-color="#100a2e"/><stop offset="0.6038" stop-color="#100a2e"/><stop offset="0.6077" stop-color="#0f0a2b"/><stop offset="0.6462" stop-color="#0f0a2b"/><stop offset="0.6500" stop-color="#100a2e"/><stop offset="0.6654" stop-color="#100a2e"/><stop offset="0.6692" stop-color="#110b30"/><stop offset="0.6846" stop-color="#110b30"/><stop offset="0.6885" stop-color="#100a2e"/><stop offset="0.7308" stop-color="#100a2e"/><stop offset="0.7346" stop-color="#0f0a2b"/><stop offset="0.7385" stop-color="#0f0a2b"/><stop offset="0.7423" stop-color="#0e0929"/><stop offset="0.7462" stop-color="#0e0929"/><stop offset="0.7500" stop-color="#0c0827"/><stop offset="0.7538" stop-color="#0c0827"/><stop offset="0.7577" stop-color="#0b0825"/><stop offset="0.7615" stop-color="#0b0825"/><stop offset="0.7654" stop-color="#0a0722"/><stop offset="0.7692" stop-color="#090720"/><stop offset="0.7731" stop-color="#090720"/><stop offset="0.7769" stop-color="#0a0722"/><stop offset="0.7808" stop-color="#0b0825"/><stop offset="0.7846" stop-color="#0c0827"/><stop offset="0.7885" stop-color="#0e0929"/><stop offset="0.7923" stop-color="#0e0929"/><stop offset="0.7962" stop-color="#0f0a2b"/><stop offset="0.8000" stop-color="#100a2e"/><stop offset="0.8038" stop-color="#110b30"/><stop offset="0.8077" stop-color="#120b32"/><stop offset="0.8115" stop-color="#120b32"/><stop offset="0.8154" stop-color="#130b35"/><stop offset="0.8192" stop-color="#150c37"/><stop offset="0.8231" stop-color="#160c39"/><stop offset="0.8269" stop-color="#170c3c"/><stop offset="0.8308" stop-color="#190d3e"/><stop offset="0.8346" stop-color="#1d0d45"/><stop offset="0.8385" stop-color="#210d4b"/><stop offset="0.8423" stop-color="#260d52"/><stop offset="0.8462" stop-color="#2b0d57"/><stop offset="0.8500" stop-color="#2f0d5b"/><stop offset="0.8538" stop-color="#340d5f"/><stop offset="0.8577" stop-color="#390e62"/><stop offset="0.8615" stop-color="#3f1065"/><stop offset="0.8654" stop-color="#451267"/><stop offset="0.8692" stop-color="#4d1569"/><stop offset="0.8731" stop-color="#53186a"/><stop offset="0.8769" stop-color="#51176a"/><stop offset="0.8808" stop-color="#501669"/><stop offset="0.8846" stop-color="#4e1669"/><stop offset="0.8885" stop-color="#4d1569"/><stop offset="0.8923" stop-color="#471268"/><stop offset="0.8962" stop-color="#411066"/><stop offset="0.9000" stop-color="#3a0e63"/><stop offset="0.9038" stop-color="#360d60"/><stop offset="0.9077" stop-color="#340d5f"/><stop offset="0.9154" stop-color="#340d5f"/><stop offset="0.9192" stop-color="#360d60"/><stop offset="0.9231" stop-color="#3c0f64"/><stop offset="0.9269" stop-color="#421166"/><stop offset="0.9308" stop-color="#481368"/><stop offset="0.9346" stop-color="#4e1669"/><stop offset="0.9385" stop-color="#53186a"/><stop offset="0.9423" stop-color="#56196a"/><stop offset="0.9462" stop-color="#5a1b6b"/><stop offset="0.9500" stop-color="#5d1c6b"/><stop offset="0.9538" stop-color="#611e6b"/><stop offset="0.9577" stop-color="#66206b"/><stop offset="0.9615" stop-color="#6a226a"/><stop offset="0.9654" stop-color="#6f246a"/><stop offset="0.9692" stop-color="#72256a"/><stop offset="1.0000" stop-color="#72256a"/></linearGradient><pattern id="dp" patternUnits="userSpaceOnUse" x="116" y="0" width="4.8" height="8"><rect x="1.2" width="2.4" height="8" fill="#fff" fill-opacity="0.42"/></pattern><mask id="dm" maskUnits="userSpaceOnUse" x="0" y="0" width="1996" height="1234"><rect x="116" y="600" width="1820" height="600" fill="url(#dp)"/></mask></defs><rect x="116" y="658" width="1820" height="486" fill="#010004"/><rect x="116" y="886.5" width="1820" height="32.5" fill="url(#b1)"/><rect x="116" y="919.0" width="1820" height="32.5" fill="url(#b2)"/><rect x="116" y="951.5" width="1820" height="32.3" fill="url(#b3)"/><rect x="116" y="983.8" width="1820" height="32.6" fill="url(#b4)"/><rect x="116" y="1016.4" width="1820" height="32.4" fill="url(#b5)"/><g mask="url(#dm)"><rect x="116" y="883.0" width="1820" height="3.5" fill="url(#b1)"/><rect x="116" y="915.5" width="1820" height="3.5" fill="url(#b2)"/><rect x="116" y="948.0" width="1820" height="3.5" fill="url(#b3)"/><rect x="116" y="980.3" width="1820" height="3.5" fill="url(#b4)"/><rect x="116" y="1012.9" width="1820" height="3.5" fill="url(#b5)"/><rect x="116" y="1045.3" width="1820" height="3.5" fill="#010004"/></g><rect x="118" y="1144" width="1818" height="2" fill="#4a4b52"/></svg>
<div class="txt">
<div class="title" style="top:41.3px;left:2px;transform:scaleX(0.875)">CPU</div>
<div class="title" style="top:573.6px;transform:scaleX(0.908);left:1.5px">Message Event Send Time</div>
<div class="sw" style="left:54px;background:#89b174"></div><div class="lg" style="left:97.5px;top:487.7px;letter-spacing:0.4px">user</div>
<div class="sw" style="left:166px;background:#e2ba53"></div><div class="lg" style="left:209.5px;top:487.7px;letter-spacing:0.85px">system</div>
<div class="yl" style="top:106.3px">100%</div><div class="yl" style="top:173px">75%</div><div class="yl" style="top:241px">50%</div><div class="yl" style="top:309px">25%</div><div class="yl" style="top:377px">0%</div><div class="xl" style="left:149.0px;top:404px">04/Feb</div><div class="xl xt" style="left:149.0px;top:440px">20:00</div><div class="xl" style="left:299.0px;top:404px">05/Feb</div><div class="xl xt" style="left:299.0px;top:440px">00:00</div><div class="xl" style="left:447.0px;top:404px">05/Feb</div><div class="xl xt" style="left:447.0px;top:440px">04:00</div><div class="xl" style="left:597.0px;top:404px">05/Feb</div><div class="xl xt" style="left:597.0px;top:440px">08:00</div><div class="xl" style="left:747.0px;top:404px">05/Feb</div><div class="xl xt" style="left:747.0px;top:440px">12:00</div><div class="xl" style="left:895.0px;top:404px">05/Feb</div><div class="xl xt" style="left:895.0px;top:440px">16:00</div><div class="xl" style="left:1045.0px;top:404px">05/Feb</div><div class="xl xt" style="left:1045.0px;top:440px">20:00</div><div class="xl" style="left:1195.0px;top:404px">06/Feb</div><div class="xl xt" style="left:1195.0px;top:440px">00:00</div><div class="xl" style="left:1343.0px;top:404px">06/Feb</div><div class="xl xt" style="left:1343.0px;top:440px">04:00</div><div class="xl" style="left:1493.0px;top:404px">06/Feb</div><div class="xl xt" style="left:1493.0px;top:440px">08:00</div><div class="xl" style="left:1643.0px;top:404px">06/Feb</div><div class="xl xt" style="left:1643.0px;top:440px">12:00</div><div class="xl" style="left:1791.0px;top:404px">06/Feb</div><div class="xl xt" style="left:1791.0px;top:440px">16:00</div><div class="hy" style="top:645.3px">+Inf</div><div class="hy" style="top:677.7px">10 s</div><div class="hy" style="top:710.1px">8 s</div><div class="hy" style="top:742.5px">5 s</div><div class="hy" style="top:774.9px">3 s</div><div class="hy" style="top:807.3px">1 s</div><div class="hy" style="top:839.7px">750 ms</div><div class="hy" style="top:872.1px">500 ms</div><div class="hy" style="top:904.5px">250 ms</div><div class="hy" style="top:936.9px">100 ms</div><div class="hy" style="top:969.3px">75 ms</div><div class="hy" style="top:1001.7px">50 ms</div><div class="hy" style="top:1034.1px">25 ms</div><div class="hy" style="top:1066.5px">10 ms</div><div class="hy" style="top:1098.9px">5 ms</div><div class="hx" style="left:49.7px;top:1159.3px">04/Feb 18:00</div><div class="hx" style="left:276.9px;top:1159.3px">05/Feb 00:00</div><div class="hx" style="left:504.1px;top:1159.3px">05/Feb 06:00</div><div class="hx" style="left:731.3px;top:1159.3px">05/Feb 12:00</div><div class="hx" style="left:958.5px;top:1159.3px">05/Feb 18:00</div><div class="hx" style="left:1185.7px;top:1159.3px">06/Feb 00:00</div><div class="hx" style="left:1412.9px;top:1159.3px">06/Feb 06:00</div><div class="hx" style="left:1640.1px;top:1159.3px">06/Feb 12:00</div>
</div>
</body></html>
